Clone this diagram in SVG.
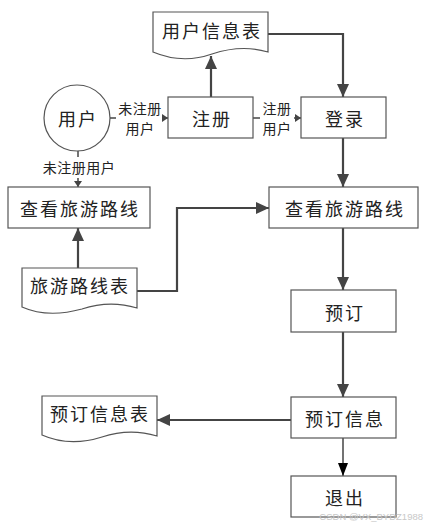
<svg xmlns="http://www.w3.org/2000/svg" width="427" height="531" viewBox="0 0 427 531">
<style>
.node{fill:#fff;stroke:#555;stroke-width:1.2}
.t{font-family:"Noto Sans CJK SC","Noto Sans",sans-serif;font-size:18px;fill:#222;text-anchor:middle;dominant-baseline:central;letter-spacing:2px}
.s{font-family:"Noto Sans CJK SC","Noto Sans",sans-serif;font-size:14px;fill:#222;text-anchor:middle;dominant-baseline:central;letter-spacing:0.5px}
.c{fill:none;stroke:#444;stroke-width:2.2}
.c1{fill:none;stroke:#444;stroke-width:1.5}
</style>
<defs>
<marker id="big" markerUnits="userSpaceOnUse" markerWidth="14" markerHeight="12" refX="13" refY="6" orient="auto">
<path d="M0,0 L13,6 L0,12 Z" fill="#444"/>
</marker>
<marker id="blk" markerUnits="userSpaceOnUse" markerWidth="14" markerHeight="10" refX="13" refY="5" orient="auto">
<path d="M0,0 L13,5 L0,10 Z" fill="#000"/>
</marker>
<marker id="sm" markerUnits="userSpaceOnUse" markerWidth="7" markerHeight="8" refX="6" refY="4" orient="auto">
<path d="M0,0 L6,4 L0,8 Z" fill="#444"/>
</marker>
</defs>
<g id="connectors">
<path class="c" d="M211,97 V56" marker-end="url(#big)"/>
<path class="c" d="M268,34 H343 V97" marker-end="url(#big)"/>
<path class="c" d="M343,138 V187" marker-end="url(#big)"/>
<path class="c" d="M78,268 V228" marker-end="url(#big)"/>
<path class="c" d="M137,291 H177 V208 H269" marker-end="url(#big)"/>
<path class="c" d="M343,228 V290" marker-end="url(#big)"/>
<path class="c" d="M343,332 V397" marker-end="url(#big)"/>
<path class="c" d="M291,420 H157" marker-end="url(#big)"/>
<path class="c1" d="M343,438 V476" marker-end="url(#blk)"/>
<path class="c1" d="M110,118 H116"/>
<path class="c1" d="M162,118 H168" marker-end="url(#sm)"/>
<path class="c1" d="M253,118 H260"/>
<path class="c1" d="M294,118 H301" marker-end="url(#sm)"/>
<path class="c1" d="M78,150 V157"/>
<path class="c1" d="M78,178 V187" marker-end="url(#sm)"/>
<text class="s" x="140" y="108">未注册</text>
<text class="s" x="140" y="128">用户</text>
<text class="s" x="277" y="108">注册</text>
<text class="s" x="277" y="128">用户</text>
<text class="s" x="79" y="167">未注册用户</text>
</g>
<g id="userinfo">
<path class="node" d="M153,12 H268 V52 C248,46 230,48 212,54 C192,61 172,60 153,52 Z"/>
<text class="t" x="212" y="30">用户信息表</text>
</g>
<g id="user">
<circle class="node" cx="77" cy="118" r="33"/>
<text class="t" x="78" y="118">用户</text>
</g>
<g id="register">
<rect class="node" x="168" y="97" width="85" height="41"/>
<text class="t" x="212" y="118">注册</text>
</g>
<g id="login">
<rect class="node" x="301" y="97" width="85" height="41"/>
<text class="t" x="345" y="118">登录</text>
</g>
<g id="viewLeft">
<rect class="node" x="8" y="187" width="142" height="41"/>
<text class="t" x="80" y="208">查看旅游路线</text>
</g>
<g id="viewRight">
<rect class="node" x="269" y="187" width="149" height="41"/>
<text class="t" x="345" y="208">查看旅游路线</text>
</g>
<g id="routes">
<path class="node" d="M22,268 H137 V308 C117,302 100,303 82,309 C60,315 40,315 22,307 Z"/>
<text class="t" x="80" y="285">旅游路线表</text>
</g>
<g id="book">
<rect class="node" x="291" y="290" width="105" height="42"/>
<text class="t" x="345" y="312">预订</text>
</g>
<g id="bookinfo">
<rect class="node" x="291" y="397" width="105" height="41"/>
<text class="t" x="345" y="418">预订信息</text>
</g>
<g id="bookTable">
<path class="node" d="M42,396 H157 V436 C137,430 120,431 102,437 C80,444 60,443 42,435 Z"/>
<text class="t" x="100" y="413">预订信息表</text>
</g>
<g id="exit">
<rect class="node" x="291" y="476" width="105" height="41"/>
<text class="t" x="345" y="497">退出</text>
</g>
<text x="423" y="520" font-family="Liberation Sans,sans-serif" font-size="9.5" fill="#c8c8c8" text-anchor="end">CSDN @VX_BYDZ1988</text>
</svg>
